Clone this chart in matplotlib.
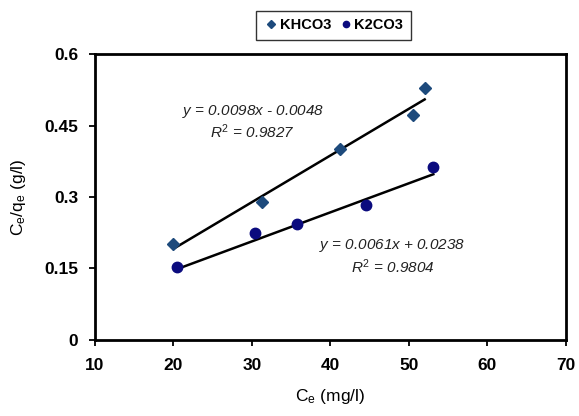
import numpy as np
import matplotlib
matplotlib.use('Agg')
import matplotlib.pyplot as plt

# values
khco3_x = [20.0, 31.3, 41.2, 50.5, 52.0]
khco3_y = [0.201, 0.290, 0.400, 0.472, 0.528]
k2co3_x = [20.5, 30.4, 35.8, 44.5, 53.1]
k2co3_y = [0.152, 0.224, 0.243, 0.283, 0.363]

# trendline coefficients as printed on the chart
khco3_fit = (0.0098, -0.0048)
k2co3_fit = (0.0061, 0.0238)

x_ticks = [10, 20, 30, 40, 50, 60, 70]
y_ticks = [0, 0.15, 0.3, 0.45, 0.6]
y_tick_labels = ['0', '0.15', '0.3', '0.45', '0.6']


def main():
    plt.rcParams['font.family'] = ['Liberation Sans', 'DejaVu Sans']
    plt.rcParams['mathtext.fontset'] = 'custom'
    plt.rcParams['mathtext.rm'] = 'Liberation Sans'
    plt.rcParams['mathtext.it'] = 'Liberation Sans:italic'

    figure = plt.figure(figsize=(5.79, 4.16), dpi=100)
    axes = figure.add_axes([0.164, 0.183, 0.8135, 0.687])

    axes.plot(khco3_x, khco3_y, 'D', color='#1d4a7c', markersize=6.5, label='KHCO3', zorder=3)
    axes.plot(k2co3_x, k2co3_y, 'o', color='#0b0b7e', markersize=7.5, label='K2CO3', zorder=3)

    # linear trendlines across each series' range
    for xs, (slope, icpt) in [(khco3_x, khco3_fit), (k2co3_x, k2co3_fit)]:
        line_x = np.array([min(xs), max(xs)])
        axes.plot(line_x, slope * line_x + icpt, color='black', linewidth=1.8, zorder=2)

    eq_style = dict(ha='center', va='center', style='italic', size=11, color='#222222')
    axes.text(30.1, 0.480, r'$y$ = 0.0098x - 0.0048', **eq_style)
    axes.text(30.0, 0.438, r'$R^2$ = 0.9827', **eq_style)
    axes.text(47.8, 0.199, r'$y$ = 0.0061x + 0.0238', **eq_style)
    axes.text(47.9, 0.153, r'$R^2$ = 0.9804', **eq_style)

    axes.set_xlim(10, 70)
    axes.set_ylim(0, 0.6)
    axes.set_xticks(x_ticks)
    axes.set_yticks(y_ticks)
    axes.set_yticklabels(y_tick_labels)

    for spin in ['left', 'bottom', 'right', 'top']:
        axes.spines[spin].set_linewidth(2.0)

    axes.tick_params(direction='out', length=4, width=1.3)
    axes.tick_params(axis='x', pad=9, labelsize=12.5)
    axes.tick_params(axis='y', pad=8, labelsize=12.5)
    for label in axes.get_xticklabels() + axes.get_yticklabels():
        label.set_fontweight('bold')

    axes.set_xlabel(r'C$_\mathrm{e}$ (mg/l)', size=12.5, labelpad=10)
    axes.set_ylabel(r'C$_\mathrm{e}$/q$_\mathrm{e}$ (g/l)', size=12.5, labelpad=12)

    legend = figure.legend(loc='center', bbox_to_anchor=(0.576, 0.939), ncol=2,
                           frameon=True, fancybox=False, edgecolor='black',
                           handletextpad=0.1, columnspacing=0.5, handlelength=1.0,
                           markerscale=0.6, borderpad=0.5,
                           prop={'weight': 'bold', 'size': 10.5})
    legend.get_frame().set_linewidth(1.0)

    figure.savefig('out.png', dpi=100)


if __name__ == '__main__':
    main()
